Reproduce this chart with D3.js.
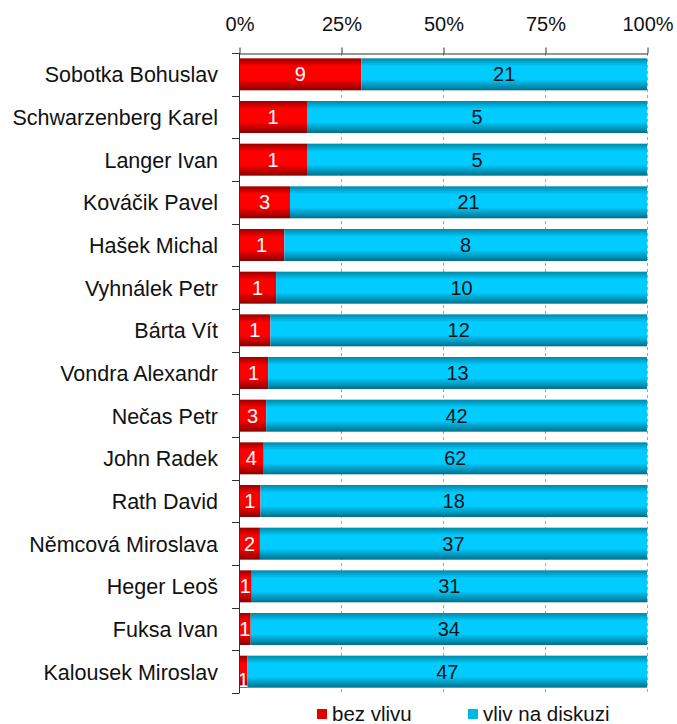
<!DOCTYPE html>
<html lang="cs">
<head>
<meta charset="UTF-8">
<title>bez vlivu / vliv na diskuzi</title>
<script src="https://d3js.org/d3.v7.min.js"></script>
<style>
    body { margin: 0; background: #ffffff; }
    text { font-family: "Liberation Sans", Arial, sans-serif; }
    .grid line { stroke: #a6a6a6; stroke-dasharray: 3,3; }
</style>
</head>
<body>
<svg width="677" height="724"></svg>
<script>
    // data
    var names = ["Sobotka Bohuslav", "Schwarzenberg Karel", "Langer Ivan", "Kováčik Pavel",
                 "Hašek Michal", "Vyhnálek Petr", "Bárta Vít", "Vondra Alexandr", "Nečas Petr",
                 "John Radek", "Rath David", "Němcová Miroslava", "Heger Leoš", "Fuksa Ivan",
                 "Kalousek Miroslav"];
    var bezVlivu = [9, 1, 1, 3, 1, 1, 1, 1, 3, 4, 1, 2, 1, 1, 1];
    var vlivNaDiskuzi = [21, 5, 5, 21, 8, 10, 12, 13, 42, 62, 18, 37, 31, 34, 47];
    var seriesNames = ["bez vlivu", "vliv na diskuzi"];
    var tickValues = [0, 0.25, 0.5, 0.75, 1];

    var svg = d3.select("svg");

    var rows = names.map(function (n, i) {
        return { name: n, "bez vlivu": bezVlivu[i], "vliv na diskuzi": vlivNaDiskuzi[i] };
    });

    var stacked = d3.stack().keys(seriesNames).offset(d3.stackOffsetExpand)(rows);

    var x = d3.scaleLinear().domain([0, 1]).range([239, 647]);
    var y = d3.scaleBand().domain(names).range([53, 693]).paddingInner(0.25).paddingOuter(0.125);
    var yb = d3.scaleBand().domain(names).range([53, 693]);

    // gradients (Excel bevel look)
    var defs = svg.append("defs");
    var grads = [
        { id: "g-red", edge: "#9a0000", mid: "#ff0000", low: "#8a0000" },
        { id: "g-blue", edge: "#0088a8", mid: "#00ccff", low: "#00708c" }
    ];
    grads.forEach(function (g) {
        var lg = defs.append("linearGradient").attr("id", g.id)
            .attr("x1", 0).attr("y1", 0).attr("x2", 0).attr("y2", 1);
        lg.append("stop").attr("offset", "0%").attr("stop-color", g.edge);
        lg.append("stop").attr("offset", "25%").attr("stop-color", g.mid);
        lg.append("stop").attr("offset", "65%").attr("stop-color", g.mid);
        lg.append("stop").attr("offset", "100%").attr("stop-color", g.low);
    });
    var fills = { "bez vlivu": "url(#g-red)", "vliv na diskuzi": "url(#g-blue)" };
    var labelColor = { "bez vlivu": "#ffffff", "vliv na diskuzi": "#111111" };
    var legendColor = { "bez vlivu": "#e00000", "vliv na diskuzi": "#00b8e8" };

    // gridlines
    svg.append("g").attr("class", "grid")
        .selectAll("line")
        .data(tickValues.slice(1))
        .enter().append("line")
        .attr("x1", function (d) { return x(d) + 0.5; })
        .attr("x2", function (d) { return x(d) + 0.5; })
        .attr("y1", 53).attr("y2", 693);

    // bars
    var layer = svg.append("g").selectAll("g")
        .data(stacked)
        .enter().append("g")
        .attr("fill", function (s) { return fills[s.key]; });

    layer.selectAll("rect")
        .data(function (s) { return s; })
        .enter().append("rect")
        .attr("x", function (d) { return x(d[0]); })
        .attr("width", function (d) { return x(d[1]) - x(d[0]); })
        .attr("y", function (d) { return y(d.data.name); })
        .attr("height", y.bandwidth());

    // value labels (very narrow segment -> label drops down like in Excel)
    layer.each(function (s) {
        d3.select(this).selectAll("text")
            .data(s)
            .enter().append("text")
            .attr("x", function (d) { return (x(d[0]) + x(d[1])) / 2; })
            .attr("y", function (d) {
                var w = x(d[1]) - x(d[0]);
                return y(d.data.name) + y.bandwidth() / 2 + (w < 10 ? 15 : 7);
            })
            .attr("text-anchor", "middle")
            .attr("font-size", "20px")
            .attr("fill", labelColor[s.key])
            .text(function (d) { return d.data[s.key]; });
    });

    // top axis
    var xAxis = d3.axisTop(x).tickValues(tickValues)
        .tickFormat(d3.format(".0%")).tickSize(6).tickSizeOuter(0);
    var gx = svg.append("g").attr("transform", "translate(0.5,53.5)").call(xAxis);
    gx.select(".domain").attr("stroke", "#333");
    gx.selectAll(".tick line").attr("stroke", "#333");
    gx.selectAll(".tick text")
        .attr("y", -23)
        .attr("dy", 0)
        .attr("font-size", "20px")
        .attr("font-family", "Liberation Sans, Arial, sans-serif")
        .attr("fill", "#111");

    // left axis: ticks between categories
    var gy = svg.append("g");
    gy.append("line")
        .attr("x1", 239.5).attr("x2", 239.5).attr("y1", 53).attr("y2", 693)
        .attr("stroke", "#333");
    gy.selectAll("line.t")
        .data(names.concat(["end"]))
        .enter().append("line")
        .attr("class", "t")
        .attr("x1", 232).attr("x2", 239.5)
        .attr("y1", function (d, i) { return Math.round(53 + i * yb.step()) + 0.5; })
        .attr("y2", function (d, i) { return Math.round(53 + i * yb.step()) + 0.5; })
        .attr("stroke", "#333");
    gy.selectAll("text")
        .data(names)
        .enter().append("text")
        .attr("x", 218)
        .attr("y", function (d) { return y(d) + y.bandwidth() / 2 + 8; })
        .attr("text-anchor", "end")
        .attr("font-size", "21.5px")
        .attr("fill", "#111")
        .text(function (d) { return d; });

    // legend
    var legX = { "bez vlivu": 317, "vliv na diskuzi": 468 };
    var leg = svg.append("g").selectAll("g")
        .data(seriesNames)
        .enter().append("g");
    leg.append("rect")
        .attr("x", function (d) { return legX[d]; })
        .attr("y", 709)
        .attr("width", 10).attr("height", 10)
        .attr("fill", function (d) { return legendColor[d]; });
    leg.append("text")
        .attr("x", function (d) { return legX[d] + 15; })
        .attr("y", 721)
        .attr("font-size", "20.5px")
        .attr("fill", "#111")
        .text(function (d) { return d; });
</script>
</body>
</html>
